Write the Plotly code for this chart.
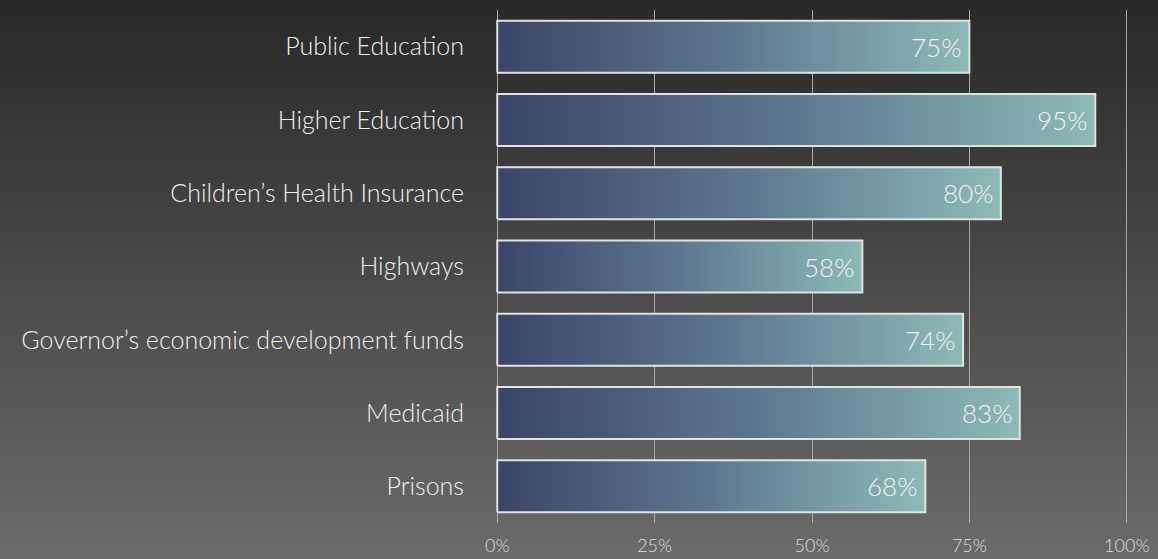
import plotly.graph_objects as go

categories = [
    "Public Education",
    "Higher Education",
    "Children’s Health Insurance",
    "Highways",
    "Governor’s economic development funds",
    "Medicaid",
    "Prisons",
]
values = [75, 95, 80, 58, 74, 83, 68]
tick_values = [0, 25, 50, 75, 100]
tick_labels = ["0%", "25%", "50%", "75%", "100%"]

FONT = "Lato"
half = 0.355  # half bar thickness, in category units

fig = go.Figure()

# background: vertical gray gradient made of thin bands
n_bands = 80
for b in range(n_bands):
    t = b / (n_bands - 1)
    g = int(0x23 + (0x72 - 0x23) * t)
    fig.add_shape(
        type="rect", xref="paper", yref="paper",
        x0=-1, x1=2, y0=1.1 - (b + 1) * 1.3 / n_bands, y1=1.1 - b * 1.3 / n_bands + 0.01,
        fillcolor=f"rgb({g},{g},{g})", line_width=0, layer="below",
    )

# bars as filled polygons so they can carry a horizontal gradient
for i, (cat, v) in enumerate(zip(categories, values)):
    y = len(categories) - 1 - i
    fig.add_trace(go.Scatter(
        x=[0, v, v, 0, 0],
        y=[y - half, y - half, y + half, y + half, y - half],
        mode="lines",
        fill="toself",
        fillgradient=dict(type="horizontal",
                          colorscale=[[0, "#3b4468"], [0.5, "#5d7790"], [1, "#8dbab6"]]),
        line=dict(color="#e2e2e2", width=2),
        hoverinfo="skip",
        showlegend=False,
    ))
    fig.add_annotation(
        x=v, y=y, text=f"{v}%", xanchor="right", xshift=-6, showarrow=False,
        font=dict(family=FONT, size=26, color="#f2f2f2", weight=300),
    )

fig.update_layout(
    width=1158, height=559,
    margin=dict(l=496, r=30, t=10, b=36),
    paper_bgcolor="#4a4a4a",
    plot_bgcolor="rgba(0,0,0,0)",
    showlegend=False,
    xaxis=dict(
        range=[-0.2, 100.2], tickvals=tick_values, ticktext=tick_labels,
        showgrid=True, gridcolor="#a8a8a8", gridwidth=1,
        zeroline=False, showline=False, ticks="", automargin=False,
        tickfont=dict(family=FONT, size=18, color="#dddddd", weight=300),
        ticklabelstandoff=10,
    ),
    yaxis=dict(
        range=[-0.5, len(categories) - 0.5],
        tickvals=list(range(len(categories) - 1, -1, -1)),
        ticktext=categories, automargin=False,
        showgrid=False, zeroline=False, showline=False, ticks="",
        tickfont=dict(family=FONT, size=25, color="#eeeeee", weight=300),
        ticklabelstandoff=31,
    ),
)

fig.write_html("out.html", config={"displayModeBar": False},
               post_script="document.body.style.margin='0';")
